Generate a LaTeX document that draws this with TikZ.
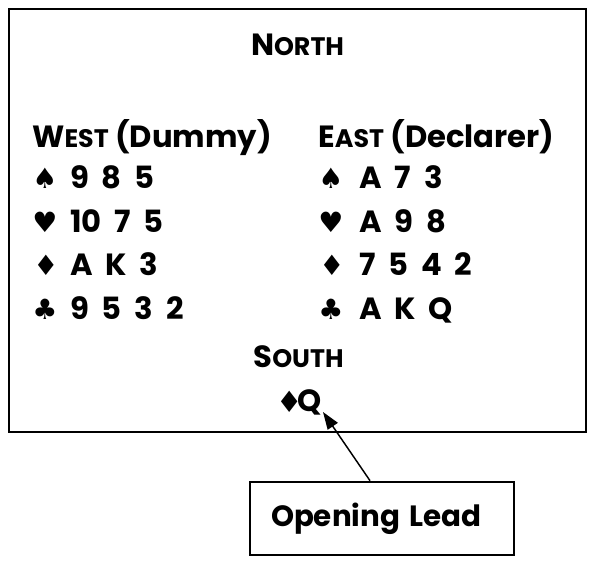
\documentclass[tikz,border=0pt]{standalone}
\usepackage{fontspec}
\setmainfont{Poppins}
\newfontfamily\suitfont{DejaVu Sans}
\usetikzlibrary{arrows.meta}
% hand-made small capitals: first letter full size, rest smaller
\newcommand\capsc[2]{#1{\fontsize{19}{21}\selectfont #2}}

\begin{document}
\begin{tikzpicture}[x=0.75pt,y=-0.75pt,
  hand/.style={font=\bfseries\fontsize{23}{27}\selectfont, inner sep=0pt, anchor=base west},
  cards/.style={hand, execute at begin node={\spaceskip=0.42em\relax}},
  suit/.style={font=\suitfont\fontsize{21}{23}\selectfont, inner sep=0pt, anchor=base west},
  frame/.style={draw, line width=2pt, inner sep=0pt},
  lead/.style={-{Triangle[length=13pt,width=9pt]}, line width=1.1pt}]
\useasboundingbox (0,0) rectangle (589,561);

% the table
\node[frame, minimum width=432.75pt, minimum height=317.25pt] (table) at (297.5,220.5) {};

\node[hand, anchor=base] (north) at (297.5,55) {\capsc{N}{ORTH}};

% West hand
\node[hand] (west) at (32,147) {\capsc{W}{EST} (Dummy)};
\node[suit] (ws) at (32,188) {♠}; \node[cards] (wsr) at (70,188) {9 8 5};
\node[suit] (wh) at (32,232) {♥}; \node[cards] (whr) at (70,232) {10 7 5};
\node[suit] (wd) at (33,275) {♦}; \node[cards] (wdr) at (70,275) {A K 3};
\node[suit] (wc) at (32,319) {♣}; \node[cards] (wcr) at (70,319) {9 5 3 2};

% East hand
\node[hand] (east) at (318,147) {\capsc{E}{AST} (Declarer)};
\node[suit] (es) at (318,188) {♠}; \node[cards] (esr) at (359,188) {A 7 3};
\node[suit] (eh) at (318,232) {♥}; \node[cards] (ehr) at (359,232) {A 9 8};
\node[suit] (ed) at (319,275) {♦}; \node[cards] (edr) at (359,275) {7 5 4 2};
\node[suit] (ec) at (318,319) {♣}; \node[cards] (ecr) at (359,319) {A K Q};

% South and the card led
\node[hand, anchor=base] (south) at (298.5,367) {\capsc{S}{OUTH}};
\node[suit, font=\suitfont\fontsize{22}{24}\selectfont] (ld) at (276,412) {♦};
\node[hand] (lq) at (297,411) {Q};
\coordinate (tip) at (323,412);

% callout
\node[frame, minimum height=54.75pt, inner xsep=15.75pt, text width=166.5pt, align=left,
  font=\bfseries\fontsize{22}{26}\selectfont]
  (callout) at (382,518.5) {Opening Lead};
\draw[lead] ([xshift=-9pt]callout.north) -- (tip);
\end{tikzpicture}
\end{document}
